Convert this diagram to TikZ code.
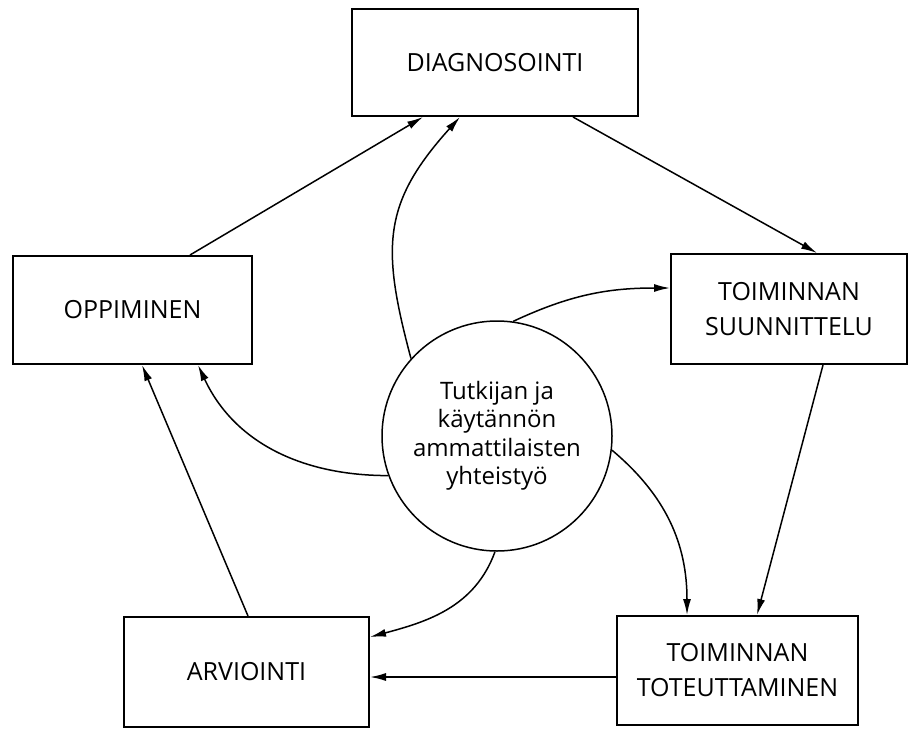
\documentclass[tikz,border=0pt]{standalone}
\usepackage{fontspec}
\setmainfont{Open Sans}
\usetikzlibrary{arrows.meta}
\begin{document}
\begin{tikzpicture}[x=1pt,y=-1pt,
  box/.style={draw=black,line width=2pt,rectangle,inner sep=0pt,
    font=\fontsize{25}{35}\selectfont,align=center},
  hub/.style={draw=black,line width=1.5pt,circle,minimum size=230pt,inner sep=0pt,
    font=\fontsize{24}{28.5}\selectfont,align=center},
  conn/.style={line width=1.5pt,draw=black,-{Latex[length=16pt,width=8pt]}}
]
\useasboundingbox (0,0) rectangle (909,728);
\fill[white] (0,0) rectangle (909,728);

\node[box,minimum width=286pt,minimum height=107pt] (diag) at (495,62.5) {DIAGNOSOINTI};
\node[box,minimum width=239pt,minimum height=108pt] (opp) at (132.5,310) {OPPIMINEN};
\node[box,minimum width=236pt,minimum height=110pt] (suun) at (789,309) {TOIMINNAN\\SUUNNITTELU};
\node[box,minimum width=241pt,minimum height=109pt] (tot) at (737.5,670.5) {TOIMINNAN\\TOTEUTTAMINEN};
\node[box,minimum width=245pt,minimum height=110pt] (arv) at (246.5,672) {ARVIOINTI};
\node[hub] (circ) at (497,436) {Tutkijan ja\\käytännön\\ammattilaisten\\yhteistyö};

% outer cycle
\draw[conn] ([xshift=57.5pt]opp.north) -- ([xshift=-72pt]diag.south);
\draw[conn] ([xshift=78pt]diag.south) -- ([xshift=28pt]suun.north);
\draw[conn] ([xshift=34pt]suun.south) -- ([xshift=19.5pt]tot.north);
\draw[conn] ([yshift=-6.5pt]tot.west) -- ([yshift=-5pt]arv.east);
\draw[conn] ([xshift=1.5pt]arv.north) -- ([xshift=9.5pt]opp.south);

% from the hub
\draw[conn] (circ.138.5) to[out=105,in=228,looseness=1.2] ([xshift=-35pt]diag.south);
\draw[conn] (circ.82.5) to[out=25,in=180] ([yshift=21pt]suun.west);
\draw[conn] (circ.-7) to[out=-40,in=90] ([xshift=-50.5pt]tot.north);
\draw[conn] (circ.-91) to[out=250,in=15] ([yshift=35pt]arv.east);
\draw[conn] (circ.200.4) to[out=180,in=-65] ([xshift=65.5pt]opp.south);
\end{tikzpicture}
\end{document}
